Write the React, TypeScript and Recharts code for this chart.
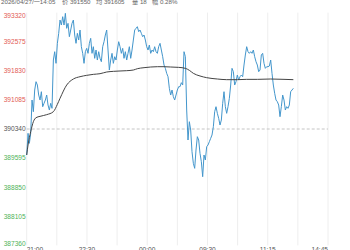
import React from 'react';
import { ComposedChart, Line, XAxis, YAxis, CartesianGrid, ReferenceLine } from 'recharts';

const BASE = 390340;
const PRICE_TICKS = [387360, 388105, 388850, 389595, 390340, 391085, 391830, 392575, 393320];
const PCT_LABELS = ['-0.76%', '-0.57%', '-0.38%', '-0.19%', '0.00%', '0.19%', '0.38%', '0.57%', '0.76%'];
const TIME_LABELS = ['21:00', '22:30', '00:00', '09:30', '11:15', '14:45'];
const TOTAL_MIN = 452;
const STEP_MIN = 2;

const PRICE = [
  389674, 390229, 389973, 390229, 391082, 390783, 391338, 391551, 391466, 391210,
  391082, 391295, 390911, 390997, 391082, 391210, 390954, 390826, 390997, 390869,
  392106, 392319, 392021, 392533, 392789, 393130, 393002, 393215, 393002, 393301,
  392917, 393045, 392703, 392874, 393045, 393130, 392746, 392533, 392789, 392618,
  392874, 392447, 392277, 392021, 392319, 392405, 392277, 392533, 392661, 392277,
  392447, 392149, 392362, 392106, 392319, 392149, 392063, 392447, 392575, 392746,
  392874, 392362, 391850, 392106, 392277, 392021, 392191, 392106, 392362, 392575,
  392447, 392277, 392405, 392149, 392319, 392106, 392277, 392447, 392149, 392362,
  392618, 392874, 392917, 392959, 392831, 392874, 392789, 392703, 392746, 392618,
  392447, 392362, 392490, 392277, 392362, 392319, 392447, 392319, 392277, 392447,
  392533, 392362, 392191, 391978, 391893, 391765, 391679, 391381, 391210, 391338,
  391167, 391082, 391210, 391338, 391423,
  391423, 391526, 391466, 392319, 392191, 390826, 390058, 390527, 390314, 389759,
  389461, 389333, 389802, 390143, 390058, 389717, 389503, 389119, 389674, 389546,
  389887, 389930, 390015, 390101, 390186, 390399, 390783, 390911, 390741, 390613,
  390442, 390570, 390997, 391295, 390911, 390741, 390911, 391125, 391466, 391893,
  391807, 391466, 391551, 391722, 391594, 391679, 391722, 391679, 391978, 392234,
  392447, 392319, 392277, 392319, 392277, 392362, 392191, 392063, 391978, 391807,
  391850, 392234, 392277, 392021, 391893, 391935, 391935, 391952, 392106, 391765,
  391466, 391253, 391082, 391039, 390954, 390655, 390911, 391210, 391082, 390826,
  390911, 390869, 390954, 391295, 391338, 391381,
];

const AVG_MIN = [
  0, 2, 6, 10, 14, 20, 30, 40, 46, 50, 60, 70, 80, 90, 100, 110, 120, 130, 140, 150,
  160, 166, 176, 186, 196, 206, 216, 228, 238, 244, 250, 260, 270, 286, 300, 316, 330,
  346, 366, 386, 400,
];
const AVG = [
  389674, 389930, 390271, 390527, 390630, 390664, 390707, 390783, 390971, 391125,
  391466, 391620, 391679, 391714, 391739, 391756, 391799, 391816, 391825, 391833,
  391850, 391884, 391910, 391927, 391935, 391935, 391927, 391918, 391893, 391842,
  391765, 391697, 391654, 391620, 391603, 391603, 391611, 391611, 391620, 391611,
  391603,
];

const HEADER = [
  { x: 1, t: '2026/04/27/一14:05' },
  { x: 62, t: '价 391550' },
  { x: 96, t: '均 391605' },
  { x: 132, t: '量 18' },
  { x: 152, t: '幅 0.28%' },
];

const RED = '#e25b55';
const GREEN = '#4fb35a';
const NEUTRAL = '#555555';
const FONT = '"Liberation Sans", Arial, "Noto Sans CJK SC", sans-serif';
const FS = 6.6;

const rows = PRICE.map((v, i) => {
  const m = i * STEP_MIN;
  const ai = AVG_MIN.indexOf(m);
  return { m, price: v, avg: ai >= 0 ? AVG[ai] : null };
});

const X_TICKS = Array.from({ length: 11 }, (_, i) => (i * TOTAL_MIN) / 10);
const GRID_H = PRICE_TICKS.filter((v) => v !== BASE);

const colorFor = (v: number) => (v > BASE ? RED : v < BASE ? GREEN : NEUTRAL);
const dyFor = (v: number) => {
  const idx = PRICE_TICKS.indexOf(v);
  if (idx === PRICE_TICKS.length - 1) return 5.3;
  if (idx === 0) return 0.8;
  return 2.3;
};

const LeftTick = (props: any) => {
  const { x, y, payload } = props;
  const v = payload.value;
  return (
    <text x={x} y={y + dyFor(v)} textAnchor="end" fill={colorFor(v)} fontSize={FS} fontFamily={FONT}>
      {v}
    </text>
  );
};

const RightTick = (props: any) => {
  const { x, y, payload } = props;
  const v = payload.value;
  const idx = PRICE_TICKS.indexOf(v);
  return (
    <text x={x} y={y + dyFor(v)} textAnchor="start" fill={colorFor(v)} fontSize={FS} fontFamily={FONT}>
      {PCT_LABELS[idx]}
    </text>
  );
};

const TimeTick = (props: any) => {
  const { x, y, payload } = props;
  const i = Math.round(payload.value / (TOTAL_MIN / 10));
  if (i % 2 !== 0) return <g />;
  const anchor = i === 0 ? 'start' : i === 10 ? 'end' : 'middle';
  return (
    <text x={x} y={y + 6.8} textAnchor={anchor} fill="#555555" fontSize={FS} fontFamily={FONT}>
      {TIME_LABELS[i / 2]}
    </text>
  );
};

export default function App() {
  return (
    <div style={{ position: 'absolute', left: 0, top: 0, width: 350, height: 250, background: '#fff', overflow: 'hidden' }}>
      <ComposedChart
        width={350}
        height={250}
        data={rows}
        margin={{ top: 12.6, right: 0, bottom: 0, left: 0 }}
      >
        <CartesianGrid stroke="#eeeeee" strokeWidth={1} horizontalValues={GRID_H} verticalValues={X_TICKS} />
        <XAxis
          dataKey="m"
          type="number"
          domain={[0, TOTAL_MIN]}
          ticks={X_TICKS}
          interval={0}
          height={4.6}
          axisLine={false}
          tickLine={false}
          tickSize={0}
          tickMargin={0}
          tick={<TimeTick />}
        />
        <YAxis
          yAxisId="left"
          orientation="left"
          type="number"
          domain={[PRICE_TICKS[0], PRICE_TICKS[PRICE_TICKS.length - 1]]}
          ticks={PRICE_TICKS}
          interval={0}
          width={26.7}
          axisLine={false}
          tickLine={false}
          tickSize={0}
          tickMargin={1}
          tick={<LeftTick />}
        />
        <YAxis
          yAxisId="right"
          orientation="right"
          type="number"
          domain={[PRICE_TICKS[0], PRICE_TICKS[PRICE_TICKS.length - 1]]}
          ticks={PRICE_TICKS}
          interval={0}
          width={22}
          axisLine={false}
          tickLine={false}
          tickSize={0}
          tickMargin={0.5}
          tick={<RightTick />}
        />
        <ReferenceLine yAxisId="left" y={BASE} stroke="#c4c4c4" strokeDasharray="3 2" />
        <Line
          yAxisId="left"
          type="linear"
          dataKey="price"
          stroke="#4396cc"
          strokeWidth={1}
          dot={false}
          activeDot={false}
          isAnimationActive={false}
        />
        <Line
          yAxisId="left"
          type="monotone"
          dataKey="avg"
          stroke="#444444"
          strokeWidth={1}
          dot={false}
          activeDot={false}
          connectNulls
          isAnimationActive={false}
        />
      </ComposedChart>
      <svg width={350} height={8} style={{ position: 'absolute', left: 0, top: 0 }}>
        {HEADER.map((h) => (
          <text key={h.t} x={h.x} y={3.6} fill="#666666" fontSize={6.2} fontFamily={FONT}>
            {h.t}
          </text>
        ))}
      </svg>
    </div>
  );
}
